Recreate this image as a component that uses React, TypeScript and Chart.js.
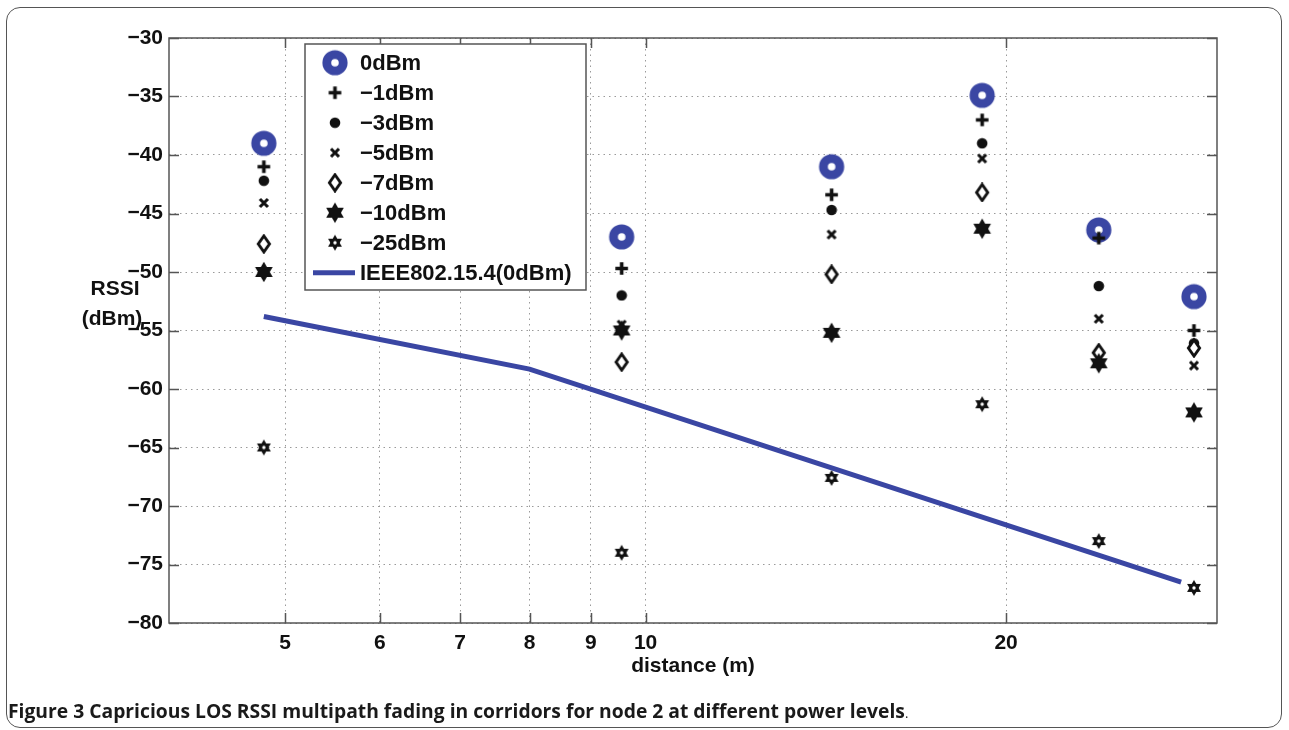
import React, { useEffect, useRef } from "react";
import { Chart, registerables } from "chart.js";

Chart.register(...registerables);

// Measured distances (m) of the six node positions
const distances = [4.8, 9.55, 14.3, 19.1, 23.9, 28.7];

// RSSI (dBm) per transmit power level
const rssi0dBm = [-39, -47, -41, -34.9, -46.4, -52.1];
const rssiMinus1dBm = [-41, -49.7, -43.4, -37, -47.1, -55];
const rssiMinus3dBm = [-42.2, -52, -44.7, -39, -51.2, -56.1];
const rssiMinus5dBm = [-44.1, -54.5, -46.8, -40.3, -54, -58];
const rssiMinus7dBm = [-47.6, -57.7, -50.2, -43.2, -56.9, -56.5];
const rssiMinus10dBm = [-50, -55, -55.2, -46.3, -57.8, -62];
const rssiMinus25dBm = [-65, -74, -67.6, -61.3, -73, -77];

// IEEE 802.15.4 path-loss model at 0 dBm
const modelDistances = [4.8, 8, 28];
const modelRssi = [-53.8, -58.3, -76.5];

const seriesLabels = [
  "0dBm",
  "\u22121dBm",
  "\u22123dBm",
  "\u22125dBm",
  "\u22127dBm",
  "\u221210dBm",
  "\u221225dBm",
  "IEEE802.15.4(0dBm)",
];

const xTickValues = [5, 6, 7, 8, 9, 10, 20];
const yTickValues = [-30, -35, -40, -45, -50, -55, -60, -65, -70, -75, -80];

const BLUE = "#3a46a3";
const INK = "#111111";
const AXIS = "#555555";
const FONT = '"Liberation Sans", Arial, Helvetica, sans-serif';

type Painter = (ctx: CanvasRenderingContext2D, c: number) => void;

function makeMarker(size: number, paint: Painter): HTMLCanvasElement {
  const cv = document.createElement("canvas");
  cv.width = size;
  cv.height = size;
  const ctx = cv.getContext("2d") as CanvasRenderingContext2D;
  paint(ctx, size / 2);
  return cv;
}

function fillHexagram(ctx: CanvasRenderingContext2D, c: number, r: number) {
  for (const start of [-Math.PI / 2, Math.PI / 2]) {
    ctx.beginPath();
    for (let k = 0; k < 3; k++) {
      const a = start + (k * 2 * Math.PI) / 3;
      const px = c + r * Math.cos(a);
      const py = c + r * Math.sin(a);
      if (k === 0) ctx.moveTo(px, py);
      else ctx.lineTo(px, py);
    }
    ctx.closePath();
    ctx.fill();
  }
}

function buildMarkers(): HTMLCanvasElement[] {
  const ring = makeMarker(28, (ctx, c) => {
    ctx.beginPath();
    ctx.arc(c, c, 8.2, 0, Math.PI * 2);
    ctx.fillStyle = "#fff";
    ctx.fill();
    ctx.lineWidth = 8.8;
    ctx.strokeStyle = BLUE;
    ctx.stroke();
  });
  const plus = makeMarker(15, (ctx, c) => {
    ctx.strokeStyle = INK;
    ctx.lineWidth = 3.6;
    ctx.beginPath();
    ctx.moveTo(1.2, c);
    ctx.lineTo(13.8, c);
    ctx.moveTo(c, 1.2);
    ctx.lineTo(c, 13.8);
    ctx.stroke();
  });
  const dot = makeMarker(12, (ctx, c) => {
    ctx.fillStyle = INK;
    ctx.beginPath();
    ctx.arc(c, c, 5.3, 0, Math.PI * 2);
    ctx.fill();
  });
  const cross = makeMarker(12, (ctx) => {
    ctx.strokeStyle = INK;
    ctx.lineWidth = 3.1;
    ctx.beginPath();
    ctx.moveTo(2, 2);
    ctx.lineTo(10, 10);
    ctx.moveTo(10, 2);
    ctx.lineTo(2, 10);
    ctx.stroke();
  });
  const diamond = makeMarker(20, (ctx, c) => {
    ctx.beginPath();
    ctx.moveTo(c, 2);
    ctx.lineTo(c + 5.6, c);
    ctx.lineTo(c, 18);
    ctx.lineTo(c - 5.6, c);
    ctx.closePath();
    ctx.fillStyle = "#fff";
    ctx.fill();
    ctx.lineWidth = 2.9;
    ctx.strokeStyle = INK;
    ctx.stroke();
  });
  const bigStar = makeMarker(22, (ctx, c) => {
    ctx.fillStyle = INK;
    fillHexagram(ctx, c, 10.2);
  });
  const smallStar = makeMarker(18, (ctx, c) => {
    ctx.fillStyle = INK;
    fillHexagram(ctx, c, 8);
    ctx.fillStyle = "#fff";
    ctx.beginPath();
    ctx.arc(c, c, 1.7, 0, Math.PI * 2);
    ctx.fill();
  });
  return [ring, plus, dot, cross, diamond, bigStar, smallStar];
}

// Dotted grid box with inward tick marks on all four sides
const axesBoxPlugin = {
  id: "axesBox",
  beforeDatasetsDraw(chart: any) {
    const { ctx, chartArea: a, scales } = chart;
    ctx.save();
    ctx.strokeStyle = AXIS;
    ctx.lineWidth = 1.5;
    ctx.strokeRect(a.left, a.top, a.right - a.left, a.bottom - a.top);
    ctx.beginPath();
    for (const t of scales.x.ticks) {
      const px = Math.round(scales.x.getPixelForValue(t.value)) + 0.5;
      ctx.moveTo(px, a.bottom);
      ctx.lineTo(px, a.bottom - 10);
      ctx.moveTo(px, a.top);
      ctx.lineTo(px, a.top + 10);
    }
    for (const t of scales.y.ticks) {
      const py = Math.round(scales.y.getPixelForValue(t.value)) + 0.5;
      ctx.moveTo(a.left, py);
      ctx.lineTo(a.left + 10, py);
      ctx.moveTo(a.right, py);
      ctx.lineTo(a.right - 10, py);
    }
    ctx.stroke();
    ctx.restore();
  },
  afterDraw(chart: any) {
    const { ctx, chartArea: a, scales } = chart;
    const yRef = scales.y.getPixelForValue(-50);
    ctx.save();
    ctx.fillStyle = INK;
    ctx.font = `bold 21px ${FONT}`;
    ctx.textAlign = "center";
    ctx.textBaseline = "middle";
    ctx.fillText("RSSI", a.left - 54, yRef + 17);
    ctx.fillText("(dBm)", a.left - 57, yRef + 47);
    ctx.restore();
  },
};

// Boxed legend inside the plot area, built from the datasets
const boxLegendPlugin = {
  id: "boxLegend",
  afterDatasetsDraw(chart: any) {
    const { ctx, chartArea: a } = chart;
    const left = a.left + 136;
    const top = a.top + 6;
    const w = 281;
    const h = 246;
    ctx.save();
    ctx.fillStyle = "#fff";
    ctx.fillRect(left, top, w, h);
    ctx.strokeStyle = AXIS;
    ctx.lineWidth = 1.5;
    ctx.strokeRect(left, top, w, h);
    ctx.font = `bold 22px ${FONT}`;
    ctx.textBaseline = "middle";
    ctx.textAlign = "left";
    chart.data.datasets.forEach((ds: any, i: number) => {
      const y = top + 18.7 + 30 * i;
      const mx = left + 30;
      if (ds.showLine) {
        ctx.strokeStyle = ds.borderColor;
        ctx.lineWidth = ds.borderWidth;
        ctx.beginPath();
        ctx.moveTo(left + 8, y);
        ctx.lineTo(left + 50, y);
        ctx.stroke();
      } else {
        const img = ds.pointStyle as HTMLCanvasElement;
        ctx.drawImage(img, mx - img.width / 2, y - img.height / 2);
      }
      ctx.fillStyle = INK;
      ctx.fillText(ds.label, left + 55, y + 1);
    });
    ctx.restore();
  },
};

function ChartCanvas() {
  const ref = useRef<HTMLCanvasElement | null>(null);

  useEffect(() => {
    if (!ref.current) return;
    const markers = buildMarkers();
    const powerSeries = [
      rssi0dBm,
      rssiMinus1dBm,
      rssiMinus3dBm,
      rssiMinus5dBm,
      rssiMinus7dBm,
      rssiMinus10dBm,
      rssiMinus25dBm,
    ];
    const datasets: any[] = powerSeries.map((vals, i) => ({
      label: seriesLabels[i],
      data: distances.map((d, k) => ({ x: d, y: vals[k] })),
      pointStyle: markers[i],
      pointRadius: 6,
      showLine: false,
      order: 20 - i,
    }));
    datasets.push({
      label: seriesLabels[7],
      data: modelDistances.map((d, k) => ({ x: d, y: modelRssi[k] })),
      showLine: true,
      borderColor: BLUE,
      borderWidth: 5,
      pointRadius: 0,
      borderCapStyle: "butt",
      order: 1,
    });

    const tickFont = { family: FONT, size: 21, weight: "bold" as const };

    const chart = new Chart(ref.current, {
      type: "scatter",
      data: { datasets },
      plugins: [axesBoxPlugin, boxLegendPlugin],
      options: {
        animation: false,
        responsive: false,
        devicePixelRatio: 1,
        layout: { padding: { left: 99, top: 38, right: 72, bottom: 47 } },
        plugins: { legend: { display: false }, tooltip: { enabled: false } },
        scales: {
          x: {
            type: "logarithmic",
            min: 4,
            max: 30,
            afterBuildTicks: (s: any) => {
              s.ticks = xTickValues.map((v) => ({ value: v }));
            },
            afterFit: (s: any) => {
              s.height = 60;
            },
            ticks: {
              autoSkip: false,
              maxRotation: 0,
              padding: 8,
              color: INK,
              font: tickFont,
              callback: (v: any) => String(v),
            },
            grid: { color: "#9a9a9a", lineWidth: 1, drawTicks: false },
            border: { display: false, dash: [1.5, 4] },
            title: {
              display: true,
              text: "distance (m)",
              color: INK,
              font: tickFont,
              padding: { top: 0, bottom: 4 },
            },
          },
          y: {
            min: -80,
            max: -30,
            afterBuildTicks: (s: any) => {
              s.ticks = yTickValues.map((v) => ({ value: v }));
            },
            afterFit: (s: any) => {
              s.width = 70;
            },
            ticks: {
              padding: 6,
              color: INK,
              font: tickFont,
              callback: (v: any) => (Number(v) < 0 ? "\u2212" + Math.abs(Number(v)) : String(v)),
            },
            grid: { color: "#9a9a9a", lineWidth: 1, drawTicks: false },
            border: { display: false, dash: [1.5, 4] },
          },
        },
      },
    } as any);

    return () => chart.destroy();
  }, []);

  return (
    <canvas
      ref={ref}
      width={1289}
      height={730}
      style={{ position: "absolute", left: 0, top: 0, width: 1289, height: 730 }}
    />
  );
}

export default function App() {
  return (
    <div
      style={{
        position: "fixed",
        left: 0,
        top: 0,
        width: 1289,
        height: 730,
        background: "#fff",
        overflow: "hidden",
      }}
    >
      <ChartCanvas />
      <div
        style={{
          position: "absolute",
          left: 6,
          top: 7,
          width: 1274,
          height: 719,
          border: "1.5px solid #555",
          borderRadius: 14,
          pointerEvents: "none",
        }}
      />
      <div
        style={{
          position: "absolute",
          left: 8,
          top: 699,
          fontFamily: '"Open Sans", "Liberation Sans", Arial, sans-serif',
          fontSize: 19.3,
          lineHeight: "24px",
          fontWeight: 700,
          color: "#1a1a1a",
          whiteSpace: "nowrap",
        }}
      >
        Figure 3 Capricious LOS RSSI multipath fading in corridors for node 2 at different power levels
        <span style={{ fontSize: 13, fontWeight: 400 }}>.</span>
      </div>
    </div>
  );
}
